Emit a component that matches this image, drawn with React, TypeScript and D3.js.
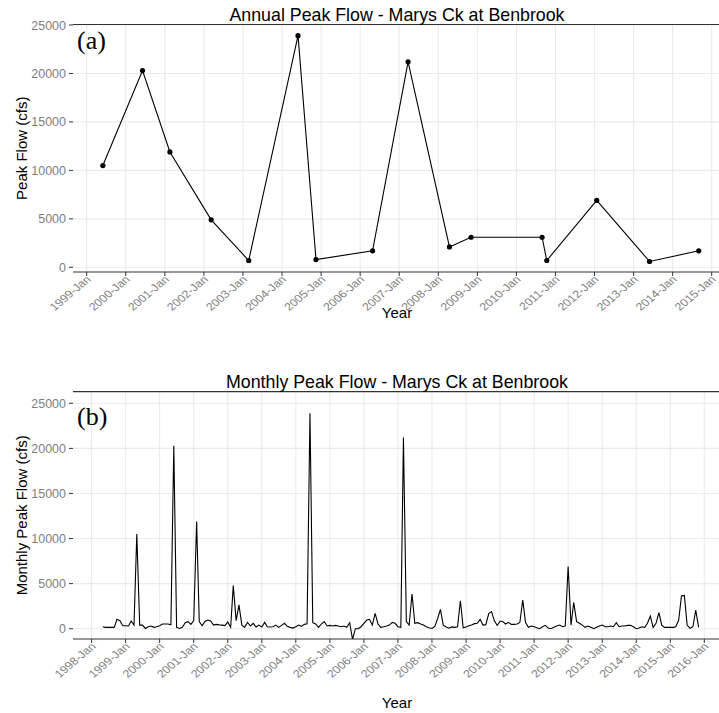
import React from "react";
import * as d3 from "d3";

// annual peaks (date of peak, cfs)
const annualDates = [
  "1999-06-01", "2000-06-06", "2001-02-17", "2002-03-10", "2003-02-24",
  "2004-05-30", "2004-11-14", "2006-04-27", "2007-03-25", "2008-04-15",
  "2008-11-03", "2010-08-29", "2010-10-12", "2012-01-22", "2013-05-30",
  "2014-09-02",
];
const annualPeaks = [
  10500, 20300, 11900, 4900, 700, 23900, 800, 1700, 21200, 2100,
  3100, 3100, 700, 6900, 600, 1700,
];

// monthly peaks, one value per month starting May 1998
const monthlyStart = "1998-05-01";
const monthlyPeaks = [
  220, 150, 150, 150, 150, 1040, 890, 330, // 1998
  330, 300, 850, 400, 10500, 400, 400, 30, 220, 300, 150, 220, // 1999
  330, 520, 520, 520, 440, 20300, 150, 30, 150, 670, 780, 480, // 2000
  890, 11900, 780, 330, 800, 960, 850, 400, 480, 420, 400, 350, // 2001
  740, 150, 4800, 900, 2650, 400, 150, 700, 300, 600, 190, 400, // 2002
  190, 700, 220, 190, 220, 400, 150, 370, 600, 260, 150, 70, // 2003
  220, 400, 260, 480, 550, 23900, 670, 520, 150, 520, 800, 300, // 2004
  370, 300, 370, 300, 220, 300, 150, 670, -1200, 0, 0, 220, // 2005
  590, 960, 1040, 400, 1700, 520, 150, 220, 300, 400, 700, 600, // 2006
  220, 150, 21200, 780, 400, 3850, 600, 670, 520, 400, 220, 100, // 2007
  20, 260, 1100, 2150, 400, 180, 50, 200, 150, 200, 3100, 100, // 2008
  180, 330, 400, 560, 600, 1040, 400, 450, 1670, 1890, 870, 350, // 2009
  850, 780, 520, 700, 480, 480, 520, 690, 3180, 670, 150, 300, // 2010
  220, 110, 0, 220, 370, 70, 0, 150, 300, 400, 220, 300, // 2011
  6900, 400, 2900, 780, 600, 400, 150, 300, 150, 0, 150, 300, // 2012
  400, 220, 220, 300, 220, 670, 220, 300, 300, 370, 370, 220, // 2013
  0, 70, 220, 150, 600, 1400, 150, 600, 1780, 400, 150, 150, // 2014
  150, 150, 220, 960, 3630, 3700, 400, 40, 220, 2070, 150, // 2015
];

const yTickValues = [0, 5000, 10000, 15000, 20000, 25000];

const parse = d3.timeParse("%Y-%m-%d");
const fmt = d3.timeFormat("%Y-%b");
const sans = "'Liberation Sans', Arial, sans-serif";
const serif = "'Liberation Serif', 'Times New Roman', serif";

const W = 719;
const panelLeft = 73;
const panelRight = 719;

type PanelProps = {
  title: string;
  tag: string;
  yLabel: string;
  top: number;
  bottom: number;
  titleY: number;
  tagY: number;
  xTitleY: number;
  x: d3.ScaleTime<number, number>;
  y: d3.ScaleLinear<number, number>;
  dates: Date[];
  values: number[];
  markers: boolean;
  clipId: string;
};

function Panel(p: PanelProps) {
  const ticks = p.x.ticks(d3.timeYear.every(1)!);
  const line = d3
    .line<number>()
    .x((_, i) => p.x(p.dates[i]))
    .y((d) => p.y(d));
  const midY = (p.top + p.bottom) / 2;
  return (
    <g>
      <defs>
        <clipPath id={p.clipId}>
          <rect x={panelLeft} y={p.top} width={panelRight - panelLeft} height={p.bottom - p.top} />
        </clipPath>
      </defs>
      {yTickValues.map((v) => (
        <line key={"gy" + v} x1={panelLeft} x2={panelRight} y1={p.y(v)} y2={p.y(v)} stroke="#ebebeb" strokeWidth={1.1} />
      ))}
      {ticks.map((t) => (
        <line key={"gx" + +t} x1={p.x(t)} x2={p.x(t)} y1={p.top} y2={p.bottom} stroke="#ebebeb" strokeWidth={1.1} />
      ))}
      <g clipPath={`url(#${p.clipId})`}>
        <path d={line(p.values) || ""} fill="none" stroke="#000" strokeWidth={1.1} />
        {p.markers &&
          p.values.map((v, i) => (
            <circle key={i} cx={p.x(p.dates[i])} cy={p.y(v)} r={2.6} fill="#000" />
          ))}
      </g>
      <line x1={panelLeft} x2={panelRight} y1={p.top} y2={p.top} stroke="#333" strokeWidth={1.2} />
      <line x1={panelLeft} x2={panelRight} y1={p.bottom} y2={p.bottom} stroke="#333" strokeWidth={1.2} />
      {yTickValues.map((v) => (
        <g key={"ty" + v}>
          <line x1={panelLeft - 4} x2={panelLeft} y1={p.y(v)} y2={p.y(v)} stroke="#333" />
          <text x={panelLeft - 7} y={p.y(v) + 4.5} textAnchor="end" fontSize={12.5} fill="#7f7f7f" fontFamily={sans}>
            {v}
          </text>
        </g>
      ))}
      {ticks.map((t) => (
        <g key={"tx" + +t}>
          <line x1={p.x(t)} x2={p.x(t)} y1={p.bottom} y2={p.bottom + 4} stroke="#333" />
          <text
            transform={`translate(${p.x(t) + 5},${p.bottom + 8}) scale(1,0.85) rotate(-45)`}
            textAnchor="end"
            fontSize={12.5}
            fill="#7f7f7f"
            fontFamily={sans}
          >
            {fmt(t)}
          </text>
        </g>
      ))}
      <text x={397} y={p.titleY} textAnchor="middle" fontSize={17.8} fontFamily={sans} fill="#000">
        {p.title}
      </text>
      <text x={77} y={p.tagY} fontSize={26} fontFamily={serif} fill="#000">
        {p.tag}
      </text>
      <text
        transform={`translate(27,${midY}) rotate(-90)`}
        textAnchor="middle"
        fontSize={15}
        fontFamily={sans}
        fill="#000"
      >
        {p.yLabel}
      </text>
      <text x={397} y={p.xTitleY} textAnchor="middle" fontSize={15} fontFamily={sans} fill="#000">
        Year
      </text>
    </g>
  );
}

export default function App() {
  const aDates = annualDates.map((d) => parse(d)!);
  const start = parse(monthlyStart)!;
  const mDates = monthlyPeaks.map((_, i) => d3.timeMonth.offset(start, i));

  const xTop = d3.scaleTime().domain([new Date(1999, 0, 1), new Date(2015, 0, 1)]).range([86.7, 711.7]);
  const yTop = d3.scaleLinear().domain([0, 25000]).range([267.3, 25]);
  const xBot = d3.scaleTime().domain([new Date(1998, 0, 1), new Date(2016, 0, 1)]).range([91.6, 704.3]);
  const yBot = d3.scaleLinear().domain([0, 25000]).range([628.7, 403.3]);

  return (
    <svg
      width={W}
      height={713}
      style={{ position: "absolute", left: 0, top: 0, background: "#fff" }}
    >
      <rect width={W} height={713} fill="#fff" />
      <Panel
        title="Annual Peak Flow - Marys Ck at Benbrook"
        tag="(a)"
        yLabel="Peak Flow (cfs)"
        top={24.5}
        bottom={272}
        titleY={20.5}
        tagY={49}
        xTitleY={318}
        x={xTop}
        y={yTop}
        dates={aDates}
        values={annualPeaks}
        markers={true}
        clipId="clipA"
      />
      <Panel
        title="Monthly Peak Flow - Marys Ck at Benbrook"
        tag="(b)"
        yLabel="Monthly Peak Flow (cfs)"
        top={391.7}
        bottom={639}
        titleY={388}
        tagY={425}
        xTitleY={708}
        x={xBot}
        y={yBot}
        dates={mDates}
        values={monthlyPeaks}
        markers={false}
        clipId="clipB"
      />
    </svg>
  );
}
